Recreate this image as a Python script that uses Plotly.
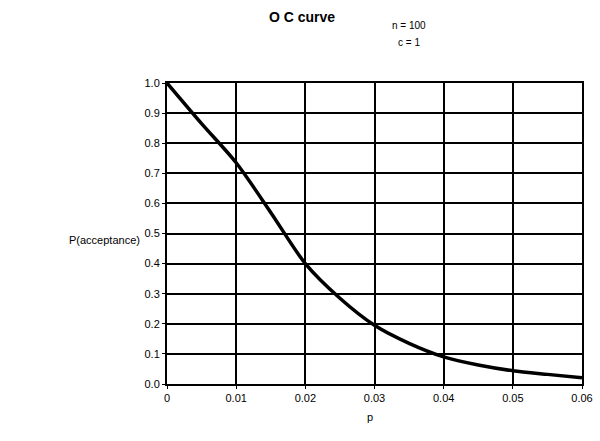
import plotly.graph_objects as go

p_values = [0, 0.005, 0.01, 0.015, 0.02, 0.025, 0.03, 0.035, 0.04, 0.045, 0.05, 0.055, 0.06]
p_accept = [1.0, 0.865, 0.735, 0.57, 0.40, 0.285, 0.195, 0.135, 0.09, 0.063, 0.044, 0.032, 0.021]
x_ticks = [0, 0.01, 0.02, 0.03, 0.04, 0.05, 0.06]
x_tick_labels = ["0", "0.01", "0.02", "0.03", "0.04", "0.05", "0.06"]
y_ticks = [0.0, 0.1, 0.2, 0.3, 0.4, 0.5, 0.6, 0.7, 0.8, 0.9, 1.0]

fig = go.Figure()
fig.add_trace(go.Scatter(x=p_values, y=p_accept, mode="lines",
                         line=dict(color="black", width=3.5, shape="spline", smoothing=0.8),
                         showlegend=False))

font = "Liberation Sans, Arial, sans-serif"
W, H = 600, 441
pl, pr, pt, pb = 167, 18, 83, 57
pw, ph = W - pl - pr, H - pt - pb

def px(x):
    return (x - pl) / pw

def py(y):
    return (H - pb - y) / ph

annots = [
    ("<b>O C curve</b>", 302, 17, 14),
    ("n = 100", 409, 25, 10),
    ("c = 1", 409, 42, 10),
    ("P(acceptance)", 104, 240, 11),
    ("p", 370, 417, 11),
]

fig.update_layout(
    width=W, height=H,
    margin=dict(l=pl, r=pr, t=pt, b=pb, autoexpand=False),
    paper_bgcolor="white", plot_bgcolor="white",
    font=dict(family=font, size=11, color="black"),
    xaxis=dict(range=[0, 0.06], tickvals=x_ticks, ticktext=x_tick_labels,
               showgrid=True, gridcolor="black", gridwidth=2, zeroline=False,
               showline=True, linecolor="black", linewidth=2, ticks="outside", ticklen=3,
               tickcolor="black", mirror=True),
    yaxis=dict(range=[0, 1.0], tickvals=y_ticks, tickformat=".1f",
               showgrid=True, gridcolor="black", gridwidth=2, zeroline=False,
               showline=True, linecolor="black", linewidth=2, ticks="outside", ticklen=3,
               tickcolor="black", mirror=True),
    annotations=[dict(text=t, x=px(x), y=py(y), xref="paper", yref="paper",
                      xanchor="center", yanchor="middle", showarrow=False,
                      font=dict(size=s, color="black")) for t, x, y, s in annots],
)
fig.write_html("out.html", config={"displayModeBar": False},
               post_script="document.body.style.margin='0';")
